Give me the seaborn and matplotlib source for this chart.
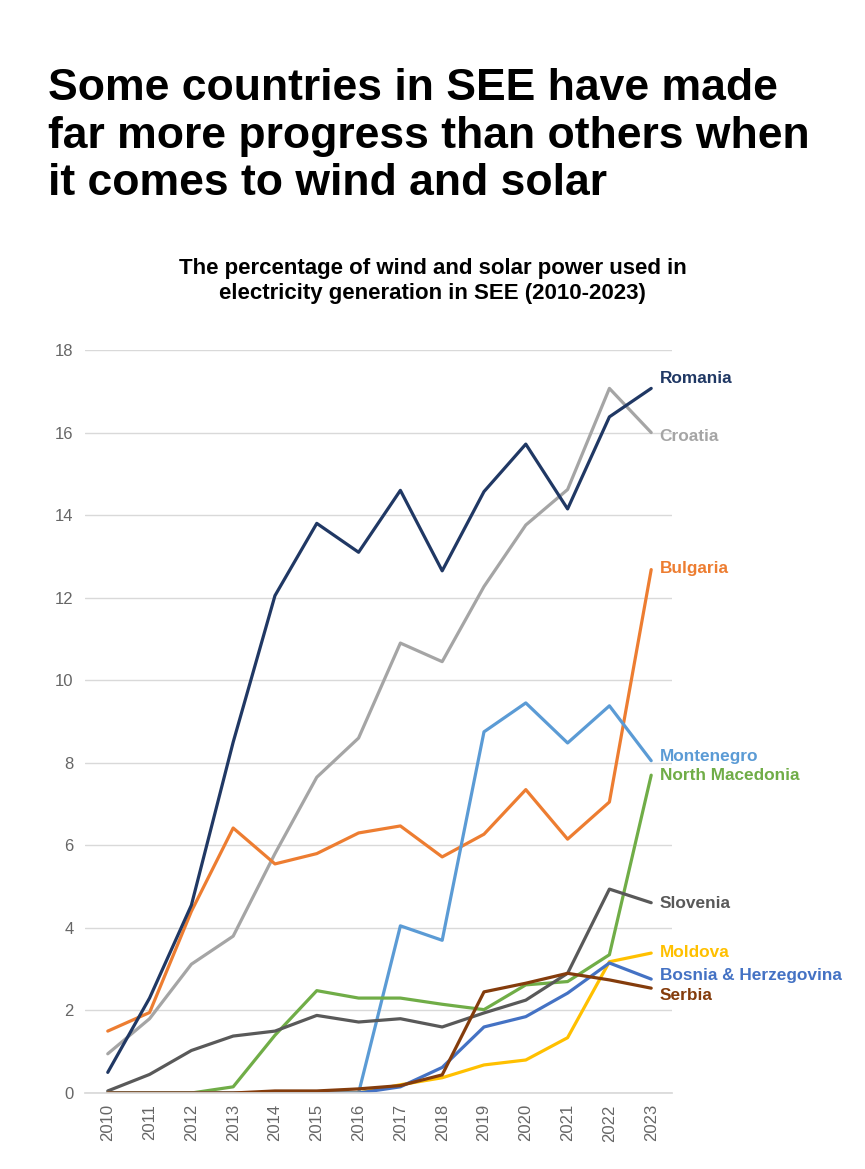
import pandas as pd
import seaborn as sns
import matplotlib.pyplot as plt

years = list(range(2010, 2024))

romania = [0.5, 2.3, 4.55, 8.5, 12.05, 13.8, 13.1, 14.6, 12.65, 14.57, 15.72, 14.15, 16.38, 17.07]
croatia = [0.95, 1.8, 3.12, 3.8, 5.8, 7.65, 8.6, 10.9, 10.45, 12.27, 13.76, 14.62, 17.07, 16.0]
bulgaria = [1.5, 1.95, 4.4, 6.42, 5.55, 5.8, 6.3, 6.47, 5.72, 6.27, 7.35, 6.15, 7.05, 12.68]
montenegro = [0, 0, 0, 0, 0, 0, 0, 4.05, 3.7, 8.75, 9.45, 8.48, 9.38, 8.05]
north_macedonia = [0, 0, 0, 0.15, 1.4, 2.48, 2.3, 2.3, 2.15, 2.02, 2.62, 2.7, 3.35, 7.7]
slovenia = [0.05, 0.45, 1.03, 1.38, 1.5, 1.88, 1.72, 1.8, 1.6, 1.94, 2.25, 2.9, 4.94, 4.61]
moldova = [0, 0, 0, 0, 0, 0, 0, 0.2, 0.37, 0.68, 0.8, 1.34, 3.18, 3.39]
bosnia = [0, 0, 0, 0, 0, 0, 0, 0.15, 0.62, 1.6, 1.85, 2.42, 3.15, 2.76]
serbia = [0, 0, 0, 0, 0.05, 0.05, 0.1, 0.18, 0.44, 2.45, 2.66, 2.9, 2.74, 2.54]

series = {
    "Romania": romania,
    "Croatia": croatia,
    "Bulgaria": bulgaria,
    "Montenegro": montenegro,
    "North Macedonia": north_macedonia,
    "Slovenia": slovenia,
    "Moldova": moldova,
    "Bosnia & Herzegovina": bosnia,
    "Serbia": serbia,
}

colors = {
    "Romania": "#203864",
    "Croatia": "#A5A5A5",
    "Bulgaria": "#ED7D31",
    "Montenegro": "#5B9BD5",
    "North Macedonia": "#70AD47",
    "Slovenia": "#595959",
    "Moldova": "#FFC000",
    "Bosnia & Herzegovina": "#4472C4",
    "Serbia": "#843C0C",
}

# label y positions (data units) for the right-hand names
label_y = {
    "Romania": 17.3,
    "Croatia": 15.9,
    "Bulgaria": 12.7,
    "Montenegro": 8.15,
    "North Macedonia": 7.7,
    "Slovenia": 4.6,
    "Moldova": 3.4,
    "Bosnia & Herzegovina": 2.85,
    "Serbia": 2.36,
}

# draw order: bottom-most first
draw_order = ["Croatia", "Bulgaria", "Montenegro", "North Macedonia", "Slovenia",
              "Moldova", "Bosnia & Herzegovina", "Serbia", "Romania"]

df = pd.DataFrame(
    [(y, name, v) for name in series for y, v in zip(years, series[name])],
    columns=["year", "country", "share"],
)

sns.set_theme(style="white")
plt.rcParams["font.family"] = ["Liberation Sans", "DejaVu Sans"]

fig = plt.figure(figsize=(8.65, 11.69), dpi=100)
ax = fig.add_axes([0.098, 0.065, 0.679, 0.6356])

for name in draw_order:
    sns.lineplot(
        data=df[df["country"] == name],
        x="year",
        y="share",
        color=colors[name],
        linewidth=2.3,
        ax=ax,
        legend=False,
    )

for name in series:
    ax.text(2023.2, label_y[name], name, color=colors[name], fontsize=12.4,
            fontweight="bold", va="center", ha="left")

ax.set_xlim(2009.45, 2023.5)
ax.set_ylim(0, 18)
ax.set_yticks(range(0, 19, 2))
ax.set_xticks(years)
ax.set_xticklabels([str(y) for y in years], rotation=90)
ax.tick_params(axis="both", labelsize=12, colors="#666666", length=0, pad=8)
ax.yaxis.grid(True, color="#D9D9D9", linewidth=1)
ax.set_axisbelow(True)
for s in ["top", "right", "left"]:
    ax.spines[s].set_visible(False)
ax.spines["bottom"].set_color("#D9D9D9")
ax.set_xlabel("")
ax.set_ylabel("")

fig.text(0.055, 0.9415, "Some countries in SEE have made\nfar more progress than others when\nit comes to wind and solar",
         fontsize=32, fontweight="bold", color="black", va="top", ha="left", linespacing=1.2)
fig.text(0.5, 0.760, "The percentage of wind and solar power used in\nelectricity generation in SEE (2010-2023)",
         fontsize=16, fontweight="bold", color="black", va="center", ha="center", linespacing=1.25)

plt.savefig("out.png", dpi=100)
plt.close()
